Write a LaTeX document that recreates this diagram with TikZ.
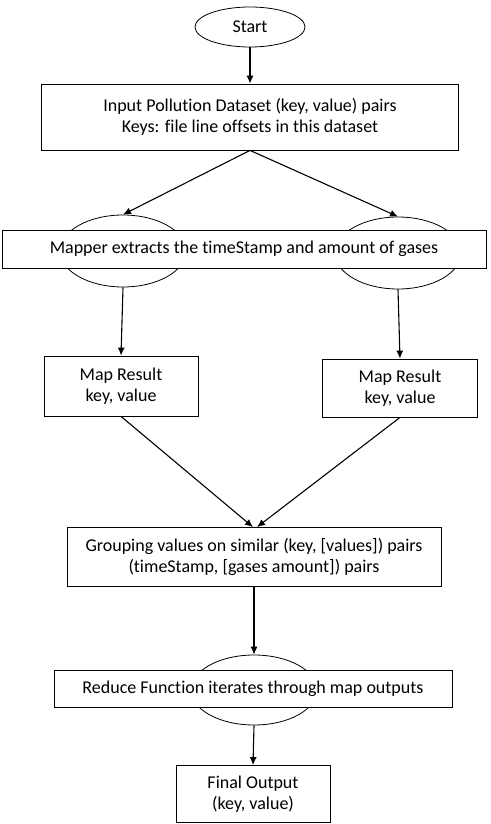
\documentclass[tikz,border=0pt]{standalone}
\usepackage{fontspec}
\setmainfont{Carlito}[Ligatures={NoCommon}]
\usetikzlibrary{shapes,arrows.meta,positioning}

\tikzset{
  procbox/.style={draw, rectangle, fill=white, align=center, inner sep=0pt, line width=0.8pt},
  ovalbox/.style={draw, ellipse, inner sep=0pt, line width=0.8pt},
  flow/.style={line width=1.1pt, -{Latex[length=8pt,width=7pt]}}
}

\begin{document}
\begin{tikzpicture}[x=1pt, y=1pt, node distance=90pt, font=\fontsize{18}{21}\selectfont]
			\useasboundingbox (0,0) rectangle (490,-824);
			\node (start) [ovalbox, minimum width=110pt, minimum height=40pt] at (250,-27) {Start};
			\node (input) [procbox, minimum width=417pt, minimum height=66pt, below of=start] {Input Pollution Dataset (key, value) pairs\\Keys: file line offsets in this dataset};
			% map side ovals behind the mapper box
			\node (lmap) [ovalbox, minimum width=126pt, minimum height=72pt, below of=input, xshift=-127pt, yshift=-44pt] {};
			\node (rmap) [ovalbox, minimum width=126pt, minimum height=72pt, below of=input, xshift=148pt, yshift=-46pt] {};
			\node (mapper) [procbox, minimum width=484pt, minimum height=38pt, below of=input, xshift=-6pt, yshift=-42pt] {Mapper extracts the timeStamp and amount of gases};
			\node (lres) [procbox, minimum width=154pt, minimum height=60pt, below of=lmap, xshift=-2pt, yshift=-45pt] {Map Result\\key, value};
			\node (rres) [procbox, minimum width=155pt, minimum height=58pt, below of=rmap, xshift=2pt, yshift=-45pt] {Map Result\\key, value};
			\node (group) [procbox, minimum width=374pt, minimum height=59pt, below of=lres, xshift=133pt, yshift=-81pt] {Grouping values on similar (key, [values]) pairs\\(timeStamp, [gases amount]) pairs};
			% reduce oval behind the reduce box
			\node (redoval) [ovalbox, minimum width=126pt, minimum height=70pt, below of=group, yshift=-43pt] {};
			\node (reduce) [procbox, minimum width=398pt, minimum height=37pt, below of=group, xshift=-1pt, yshift=-42pt] {Reduce Function iterates through map outputs};
			\node (final) [procbox, minimum width=154pt, minimum height=57pt, below of=reduce, yshift=-15pt] {Final Output\\(key, value)};

			\draw[flow] (start) -- (input);
			\draw[flow] (input.south) -- (lmap.north);
			\draw[flow] (input.south) -- (rmap.north);
			\draw[flow] (lmap.south) -- (lres.north);
			\draw[flow] (rmap.south) -- (rres.north);
			\draw[flow] (lres.south) -- ([xshift=-1pt]group.north);
			\draw[flow] (rres.south) -- ([xshift=3pt]group.north);
			\draw[flow] (group.south) -- (redoval.north);
			\draw[flow] (redoval.south) -- (final.north);
		\end{tikzpicture}
\end{document}
